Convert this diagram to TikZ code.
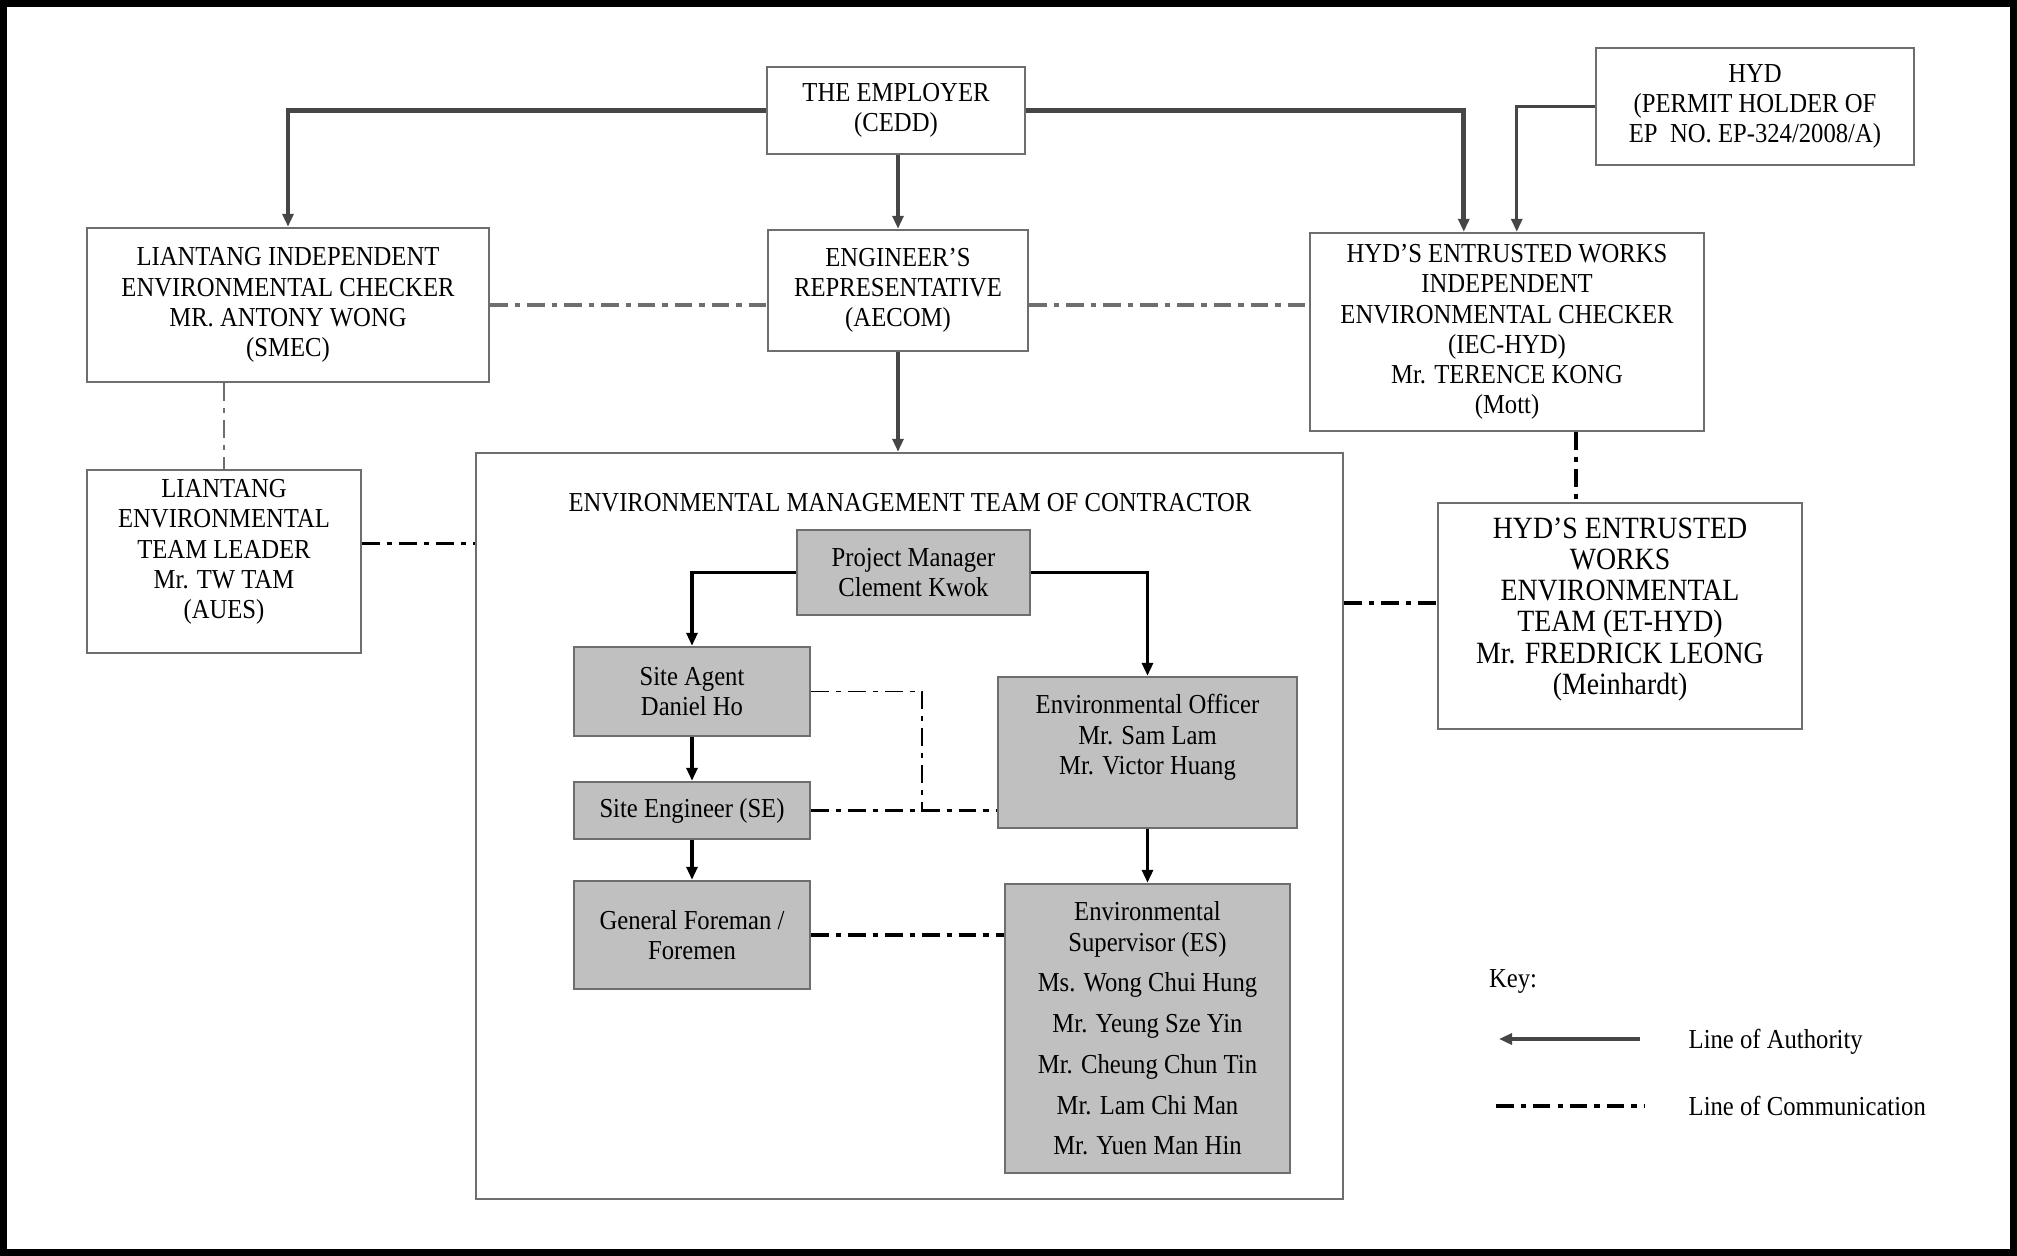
\documentclass[tikz,border=0pt]{standalone}
\usepackage{fontspec}
\setmainfont{Liberation Serif}[FakeStretch=0.9]
\usepackage{tikz}
\usetikzlibrary{arrows.meta}
\definecolor{boxline}{RGB}{110,110,110}
\definecolor{boxfill}{RGB}{192,192,192}
\definecolor{authline}{RGB}{70,70,70}
\newcommand{\boxfont}{\fontsize{7.8}{8.6}\selectfont}
\newcommand{\bigboxfont}{\fontsize{8.8}{8.9}\selectfont}

\begin{document}
\begin{tikzpicture}[inner sep=0pt,
  box/.style={draw=boxline,line width=0.7pt,align=center,font=\boxfont},
  greybox/.style={box,fill=boxfill},
  auth/.style={draw=authline,line width=0.9pt,-{Triangle[length=1.3mm,width=1.1mm]}},
  inauth/.style={auth,draw=black},
  comm/.style={line width=1pt,dash pattern=on 5pt off 2pt on 1.5pt off 2pt},
  thincomm/.style={comm,line width=0.5pt}]
\useasboundingbox (0,0) rectangle (20.17,-12.56);
\draw[line width=2pt] (0.035,-0.035) rectangle (20.135,-12.525);
%top row
\node[box,minimum width=2.58cm,minimum height=0.87cm] at (8.96,-1.105) (Employer) {THE EMPLOYER\\(CEDD)};
\node[box,minimum width=3.18cm,minimum height=1.17cm] at (17.55,-1.065) (Hyd) {HYD\\(PERMIT HOLDER OF\\EP~ NO. EP-324/2008/A)};
\node[box,minimum width=4.02cm,minimum height=1.54cm] at (2.88,-3.05) (LiantangIEC) {LIANTANG INDEPENDENT\\ENVIRONMENTAL CHECKER\\MR. ANTONY WONG\\(SMEC)};
\node[box,minimum width=2.60cm,minimum height=1.21cm] at (8.98,-2.905) (EngRep) {ENGINEER'S\\REPRESENTATIVE\\(AECOM)};
\node[box,minimum width=3.94cm,minimum height=1.98cm] at (15.07,-3.32) (IecHyd) {HYD'S ENTRUSTED WORKS\\INDEPENDENT\\ENVIRONMENTAL CHECKER\\(IEC-HYD)\\Mr. TERENCE KONG\\(Mott)};
\node[box,minimum width=2.74cm,minimum height=1.83cm,text depth=0.25cm] at (2.24,-5.615) (LiantangET) {LIANTANG\\ENVIRONMENTAL\\TEAM LEADER\\Mr. TW TAM\\(AUES)};
\node[box,minimum width=3.64cm,minimum height=2.26cm,font=\bigboxfont,text depth=0.2cm] at (16.20,-6.16) (HydET) {HYD'S ENTRUSTED\\WORKS\\ENVIRONMENTAL\\TEAM (ET-HYD)\\Mr. FREDRICK LEONG\\(Meinhardt)};
%contractor team
\node[box,minimum width=8.67cm,minimum height=7.46cm] at (9.095,-8.26) (Team) {};
\node[font=\boxfont] at (9.10,-5.03) (TeamTitle) {ENVIRONMENTAL MANAGEMENT TEAM OF CONTRACTOR};
\node[greybox,minimum width=2.33cm,minimum height=0.85cm] at (9.135,-5.725) (ProjMgr) {Project Manager\\Clement Kwok};
\node[greybox,minimum width=2.36cm,minimum height=0.89cm] at (6.92,-6.915) (SiteAgent) {Site Agent\\Daniel Ho};
\node[greybox,minimum width=2.36cm,minimum height=0.57cm] at (6.92,-8.105) (SiteEng) {Site Engineer (SE)};
\node[greybox,minimum width=2.36cm,minimum height=1.08cm] at (6.92,-9.35) (Foreman) {General Foreman /\\Foremen};
\node[greybox,minimum width=2.99cm,minimum height=1.51cm,text depth=0.36cm] at (11.475,-7.525) (EnvOff) {Environmental Officer\\Mr. Sam Lam\\Mr. Victor Huang};
\node[greybox,minimum width=2.85cm,minimum height=2.89cm] at (11.475,-10.285) (EnvSup) {Environmental\\Supervisor (ES)\\[3pt]Ms. Wong Chui Hung\\[3pt]Mr. Yeung Sze Yin\\[3pt]Mr. Cheung Chun Tin\\[3pt]Mr. Lam Chi Man\\[3pt]Mr. Yuen Man Hin};
\coordinate (SaTurn) at (9.22,-8.12);
%lines of authority
\draw[auth,line width=1.3pt] (Employer.west) -| (LiantangIEC.north);
\draw[auth,line width=1.3pt] (Employer.east) -| ([xshift=1.55cm]IecHyd.north west);
\draw[auth] (Hyd.west) -| ([xshift=2.08cm]IecHyd.north west);
\draw[auth] (EngRep.north |- Employer.south) -- (EngRep.north);
\draw[auth] (EngRep.south) -- (EngRep.south |- Team.north);
\draw[inauth] (ProjMgr.west) -| (SiteAgent.north);
\draw[inauth] (ProjMgr.east) -| (EnvOff.north);
\draw[inauth] (SiteAgent.south) -- (SiteEng.north);
\draw[inauth] (SiteEng.south) -- (Foreman.north);
\draw[inauth] (EnvOff.south) -- (EnvSup.north);
%lines of communication
\draw[comm,draw=boxline] (LiantangIEC.east) -- (LiantangIEC.east -| EngRep.west);
\draw[comm,draw=boxline] (EngRep.east |- LiantangIEC.east) -- (IecHyd.west |- LiantangIEC.east);
\draw[thincomm,draw=boxline] (LiantangET.north |- LiantangIEC.south) -- (LiantangET.north);
\draw[comm] ([yshift=1.8mm]LiantangET.east) -- ([yshift=1.8mm]LiantangET.east -| Team.west);
\draw[comm] ([xshift=0.69cm]IecHyd.south) -- ([xshift=0.69cm]IecHyd.south |- HydET.north);
\draw[comm] ([yshift=1.3mm]HydET.west -| Team.east) -- ([yshift=1.3mm]HydET.west);
\draw[thincomm] (SiteAgent.east) -| (SaTurn);
\draw[comm] (SiteEng.east) -- (SiteEng.east -| EnvOff.west);
\draw[comm] (Foreman.east) -- (Foreman.east -| EnvSup.west);
%key
\node[font=\boxfont] at (15.13,-9.81) (Key) {Key:};
\coordinate (KeyAuthA) at (16.40,-10.39);
\coordinate (KeyAuthB) at (14.99,-10.39);
\coordinate (KeyCommA) at (14.96,-11.06);
\coordinate (KeyCommB) at (16.44,-11.06);
\draw[auth,line width=1.3pt] (KeyAuthA) -- (KeyAuthB);
\draw[comm] (KeyCommA) -- (KeyCommB);
\node[font=\boxfont,anchor=west] at (16.88,-10.42) (KeyAuth) {Line of Authority};
\node[font=\boxfont,anchor=west] at (16.88,-11.06) (KeyComm) {Line of Communication};
\end{tikzpicture}
\end{document}
